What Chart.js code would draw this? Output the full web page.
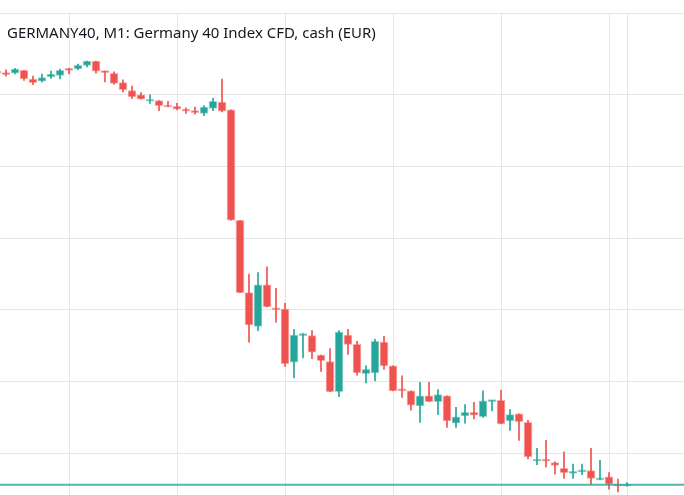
<!DOCTYPE html>
<html>
<head>
<meta charset="utf-8">
<script src="https://cdn.jsdelivr.net/npm/chart.js@4.4.0/dist/chart.umd.min.js"></script>
<style>
  html, body { margin: 0; padding: 0; background: #ffffff; }
  #wrap { width: 684px; height: 495px; position: relative; }
</style>
</head>
<body>
<div id="wrap"><canvas id="c"></canvas></div>
<script>
const chartTitle = "GERMANY40, M1: Germany 40 Index CFD, cash (EUR)";
const firstIndex = -1;
const opens = [15053.3,15053.1,15053.0,15053.4,15052.2,15051.9,15052.5,15052.7,15053.6,15053.6,15054.1,15054.7,15053.3,15053.0,15051.7,15050.6,15050.0,15049.1,15049.2,15048.5,15048.4,15048.0,15047.8,15047.4,15048.1,15049.0,15047.9,15032.5,15022.4,15017.7,15023.5,15020.2,15020.1,15012.7,15016.4,15016.4,15013.7,15012.8,15008.6,15016.5,15015.2,15011.1,15011.2,15015.5,15012.2,15008.9,15008.7,15006.6,15008.0,15007.2,15008.0,15004.2,15005.2,15005.7,15005.1,15007.2,15007.4,15004.5,15005.5,15004.3,14998.9,14999.1,14998.7,14997.9,14997.2,14997.4,14997.6,14996.3,14996.7,14995.6,14995.4];
const highs = [15053.5,15053.5,15053.7,15053.4,15052.6,15052.9,15053.3,15053.6,15053.7,15054.3,15054.7,15054.7,15053.3,15053.2,15052.1,15051.2,15050.3,15050.0,15049.2,15049.1,15048.8,15048.2,15048.3,15048.5,15049.5,15052.2,15047.9,15032.5,15025.0,15025.2,15026.0,15023.0,15020.9,15017.3,15016.7,15017.1,15013.7,15014.6,15017.1,15017.3,15015.6,15012.2,15015.9,15016.3,15012.2,15010.8,15008.7,15009.9,15009.9,15008.9,15008.0,15006.4,15006.8,15007.1,15008.7,15007.3,15008.8,15006.1,15005.5,15004.6,15000.7,15001.8,14998.8,15000.2,14998.5,14998.5,15000.7,14999.0,14997.3,14996.4,14995.9];
const lows = [15052.9,15052.6,15052.9,15052.0,15051.4,15051.8,15052.3,15052.2,15052.9,15053.5,15053.9,15053.0,15051.8,15051.5,15050.4,15049.5,15049.4,15048.8,15047.8,15048.3,15047.9,15047.4,15047.3,15047.1,15047.8,15047.6,15032.5,15022.4,15015.5,15017.1,15020.4,15018.3,15012.1,15010.5,15013.3,15013.2,15011.4,15008.6,15007.9,15013.8,15010.9,15009.8,15010.1,15011.7,15008.7,15007.8,15006.0,15004.3,15007.2,15005.4,15003.6,15003.6,15004.2,15004.8,15005.0,15005.9,15004.1,15003.2,15001.8,14999.2,14998.4,14998.1,14997.1,14996.5,14996.5,14997.0,14995.7,14996.3,14995.0,14994.6,14995.4];
const closes = [15053.0,15052.8,15053.6,15052.2,15051.7,15052.4,15052.9,15053.4,15053.4,15054.1,15054.7,15053.3,15053.1,15051.6,15050.7,15049.7,15049.4,15049.3,15048.5,15048.3,15048.0,15047.7,15047.5,15048.3,15049.1,15047.7,15032.5,15022.4,15017.9,15023.5,15020.4,15020.0,15012.5,15016.5,15016.6,15014.1,15012.9,15008.6,15016.9,15015.2,15011.2,15011.7,15015.6,15012.2,15008.7,15008.7,15006.7,15008.0,15007.2,15008.2,15004.5,15005.1,15005.7,15005.3,15007.3,15007.3,15004.1,15005.4,15004.4,14999.5,14999.1,14998.9,14998.3,14997.3,14997.4,14997.7,14996.5,14996.5,14995.7,14995.4,14995.6];
const timeGridIndices = [7, 19, 31, 43, 55, 67, 69];
const priceGridValues = [15000, 15010, 15020, 15030, 15040, 15050];
const priceMin = 14994.18, priceMax = 15061.41;
const indexMin = -0.667, indexMax = 75.333;

const UP = '#26a69a', DOWN = '#ef5350';
const UP_EDGE = 'rgba(38,166,154,0.45)', DOWN_EDGE = 'rgba(239,83,80,0.45)';
const lastPrice = closes[closes.length - 1];

const wickData = [], bodyData = [], fills = [], edges = [];
for (let k = 0; k < opens.length; k++) {
  const x = firstIndex + k;
  const up = closes[k] >= opens[k];
  wickData.push({x: x, y: [lows[k], highs[k]]});
  bodyData.push({x: x, y: [opens[k], closes[k]]});
  fills.push(up ? UP : DOWN);
  edges.push(up ? UP_EDGE : DOWN_EDGE);
}

const titlePlugin = {
  id: 'titleText',
  afterDraw(chart) {
    const ctx = chart.ctx;
    ctx.save();
    let size = 14;
    ctx.font = size + 'px "Noto Sans", "Open Sans", sans-serif';
    const w = ctx.measureText(chartTitle).width;
    size = size * 369 / w;
    ctx.font = size.toFixed(2) + 'px "Noto Sans", "Open Sans", sans-serif';
    ctx.fillStyle = '#131722';
    ctx.textBaseline = 'alphabetic';
    ctx.textAlign = 'left';
    ctx.fillText(chartTitle, 7, 37.5);
    ctx.restore();
  }
};

new Chart(document.getElementById('c'), {
  type: 'bar',
  data: {
    datasets: [
      {
        type: 'line',
        data: [{x: indexMin - 2, y: lastPrice}, {x: indexMax + 2, y: lastPrice}],
        borderColor: 'rgba(38,166,154,0.8)',
        borderWidth: 2,
        pointRadius: 0,
        order: 0
      },
      {
        data: wickData,
        backgroundColor: fills,
        barThickness: 1,
        grouped: false,
        order: 2
      },
      {
        data: bodyData,
        backgroundColor: fills,
        borderColor: edges,
        borderWidth: 1,
        borderSkipped: false,
        barThickness: 8,
        minBarLength: 2,
        grouped: false,
        order: 1
      }
    ]
  },
  options: {
    responsive: true,
    maintainAspectRatio: false,
    animation: false,
    layout: { padding: { top: 13, left: 0, right: 0, bottom: 0 } },
    plugins: { legend: { display: false }, tooltip: { enabled: false }, title: { display: false } },
    scales: {
      x: {
        type: 'linear',
        min: indexMin,
        max: indexMax,
        offset: false,
        afterBuildTicks: (s) => { s.ticks = timeGridIndices.map(v => ({value: v})); },
        ticks: { display: false },
        grid: { color: '#e6e6e6', drawTicks: false, tickLength: 0, offset: false },
        border: { display: false }
      },
      y: {
        min: priceMin,
        max: priceMax,
        afterBuildTicks: (s) => { s.ticks = priceGridValues.concat([priceMax]).map(v => ({value: v})); },
        ticks: { display: false },
        grid: { color: '#e6e6e6', drawTicks: false, tickLength: 0, offset: false },
        border: { display: false }
      }
    }
  },
  plugins: [titlePlugin]
});
</script>
</body>
</html>
